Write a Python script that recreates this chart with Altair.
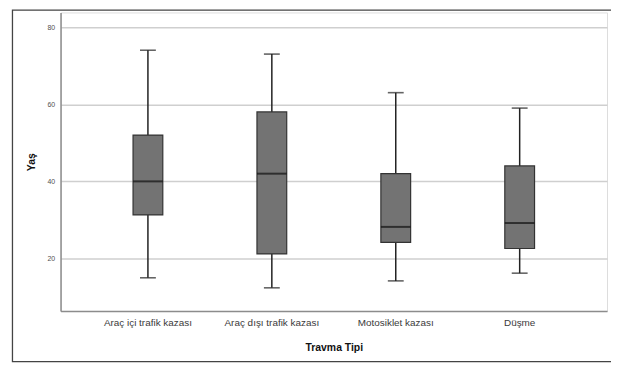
import altair as alt
import pandas as pd

categories = ["Araç içi trafik kazası", "Araç dışı trafik kazası", "Motosiklet kazası", "Düşme"]
lower = [15, 12.4, 14.2, 16.2]
q1 = [31.3, 21.2, 24.2, 22.6]
median = [40, 42, 28.2, 29.2]
q3 = [52, 58, 42, 44]
upper = [74, 73, 63, 59]
y_ticks = [20, 40, 60, 80]

df = pd.DataFrame({"cat": categories, "lower": lower, "q1": q1,
                   "median": median, "q3": q3, "upper": upper})

FONT = "Liberation Sans"
xscale = alt.Scale(domain=categories, paddingInner=0, paddingOuter=0.205)
yscale = alt.Scale(domain=[6.4, 83.8], nice=False, zero=False)

x = alt.X("cat:N", scale=xscale, sort=categories,
          axis=alt.Axis(title="Travma Tipi", labelAngle=0, ticks=False,
                        labelPadding=7, titlePadding=15, labelFontSize=10,
                        labelColor="#3a3a3a", titleFontSize=10.5,
                        titleFontWeight="bold", titleColor="#111111",
                        domainColor="#8c8c8c", domainWidth=1.5, grid=False,
                        labelLimit=200))
y_axis = alt.Axis(title="Yaş", values=y_ticks, ticks=False, labelPadding=6,
                  labelFontSize=7, labelColor="#505050", titleFontSize=10.5,
                  titleFontWeight="bold", titleColor="#111111", titlePadding=10,
                  domainColor="#8c8c8c", domainWidth=1.5, grid=True,
                  gridColor="#cfcfcf", gridWidth=1.5)

base = alt.Chart(df)

whisker = base.mark_rule(color="#222222", strokeWidth=1.5).encode(
    x=x,
    y=alt.Y("lower:Q", scale=yscale, axis=y_axis),
    y2="upper:Q",
)
box = base.mark_bar(size=30, color="#737373", stroke="#333333", strokeWidth=1.2).encode(
    x=x, y=alt.Y("q1:Q", scale=yscale), y2="q3:Q"
)
med = base.mark_tick(size=30, thickness=2, color="#111111").encode(
    x=x, y=alt.Y("median:Q", scale=yscale)
)
cap_lo = base.mark_tick(size=16, thickness=1.6, color="#222222").encode(
    x=x, y=alt.Y("lower:Q", scale=yscale)
)
cap_hi = base.mark_tick(size=16, thickness=1.6, color="#222222").encode(
    x=x, y=alt.Y("upper:Q", scale=yscale)
)

frame = alt.Chart(pd.DataFrame({"f": [0]})).mark_rect(
    fill=None, stroke="#444444", strokeWidth=1.3
).encode(
    x=alt.value(-48.5), x2=alt.value(570), y=alt.value(-2.4), y2=alt.value(352)
)

chart = alt.layer(whisker, box, med, cap_lo, cap_hi, frame).properties(
    width=551, height=301,
    autosize=alt.AutoSizeParams(type="none"),
    padding={"left": 53, "top": 3, "right": 4, "bottom": 52},
).configure_view(stroke=None).configure(font=FONT)

chart.save("out.html", embed_options={"renderer": "svg", "actions": False})
